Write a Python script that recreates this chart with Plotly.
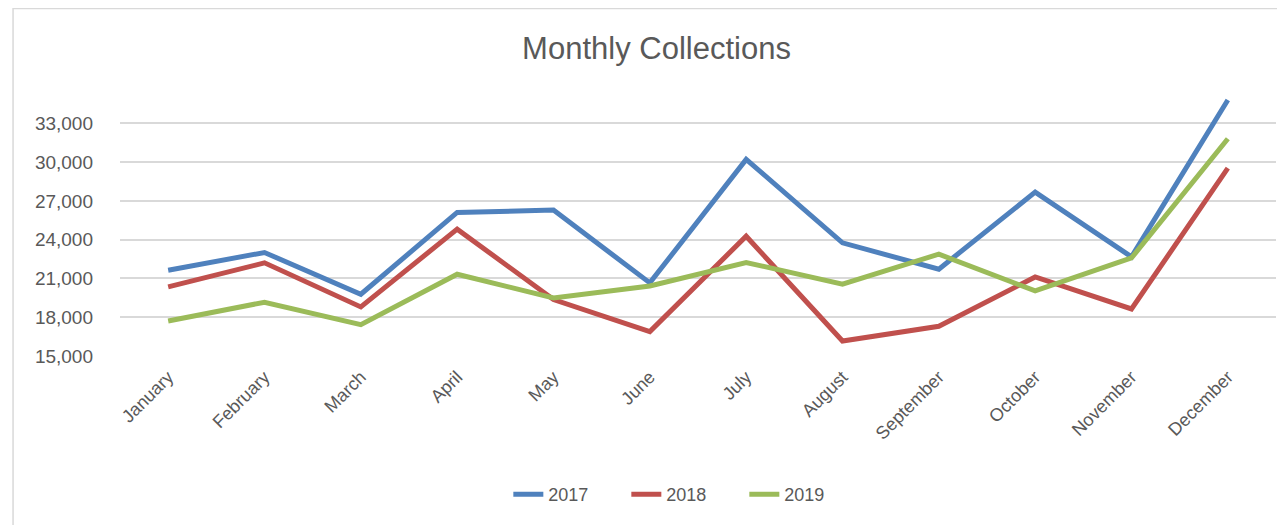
import plotly.graph_objects as go

months = ["January", "February", "March", "April", "May", "June", "July",
          "August", "September", "October", "November", "December"]
s2017 = [21640, 23010, 19780, 26110, 26290, 20660, 30220, 23760, 21720, 27680, 22670, 34810]
s2018 = [20350, 22210, 18800, 24820, 19370, 16890, 24270, 16160, 17300, 21120, 18640, 29540]
s2019 = [17710, 19160, 17430, 21330, 19490, 20420, 22240, 20560, 22880, 20040, 22590, 31810]
series_names = ["2017", "2018", "2019"]
colors = ["#4F81BD", "#C0504D", "#9BBB59"]
ytick_vals = [15000, 18000, 21000, 24000, 27000, 30000, 33000]
ytick_text = ["15,000", "18,000", "21,000", "24,000", "27,000", "30,000", "33,000"]

FONT = "Liberation Sans, Arial, sans-serif"
TXT = "#595959"

fig = go.Figure()
for name, vals, c in zip(series_names, [s2017, s2018, s2019], colors):
    fig.add_trace(go.Scatter(x=months, y=vals, name=name, mode="lines",
                             line=dict(color=c, width=5)))

# page offset of 8px (body margin) taken into account
OFF = 8
W, H = 1285, 525
L, R, T, B = 119.5 - OFF, 17, 95 - OFF, H - (355.7 - OFF)
pw = W - L - R
ph = H - T - B

def px2paper_x(px):
    return (px - OFF - L) / pw

def px2paper_y(py):
    return (H - B - (py - OFF)) / ph

fig.update_layout(
    width=W, height=H,
    margin=dict(l=L, r=R, t=T, b=B, pad=0),
    paper_bgcolor="white", plot_bgcolor="white",
    font=dict(family=FONT, color=TXT),
    title=dict(text="Monthly Collections", x=(656.5 - OFF) / W, xanchor="center",
               y=1 - (48.5 - OFF) / H, yanchor="middle",
               font=dict(size=31, color=TXT, family=FONT)),
    showlegend=True,
    legend=dict(orientation="h", x=px2paper_x(493 - 6 + 21), xanchor="left",
                y=px2paper_y(494), yanchor="middle",
                font=dict(size=18, color=TXT), entrywidth=73,
                entrywidthmode="pixels", bgcolor="rgba(0,0,0,0)"),
    xaxis=dict(type="category", range=[-0.5, 11.5], tickangle=-45,
               tickfont=dict(size=18, color=TXT), showgrid=False,
               showline=False, zeroline=False, ticks="", ticklabelstandoff=6),
    yaxis=dict(range=[15000, 35200], tickvals=ytick_vals, ticktext=ytick_text,
               tickfont=dict(size=19, color=TXT), showgrid=True,
               gridcolor="#D9D9D9", gridwidth=1.5, zeroline=False,
               showline=False, ticks="", ticklabelstandoff=26),
    shapes=[dict(type="rect", xref="paper", yref="paper",
                 x0=px2paper_x(12.5), x1=px2paper_x(1320),
                 y0=px2paper_y(560), y1=px2paper_y(8.5),
                 line=dict(color="#D9D9D9", width=1.5), fillcolor="rgba(0,0,0,0)",
                 layer="below")],
)

fig.write_html("out.html")
